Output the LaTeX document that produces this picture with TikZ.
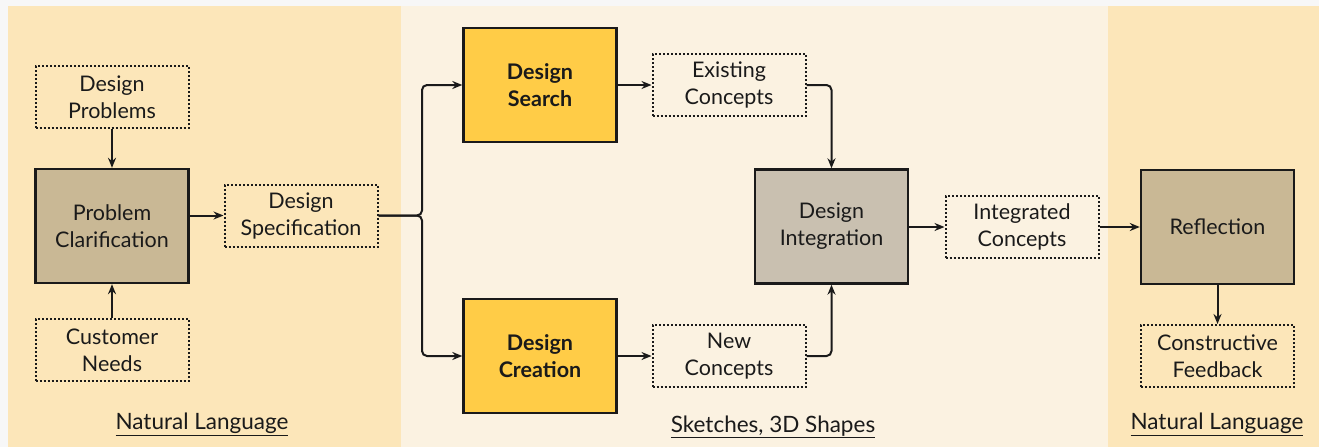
\documentclass[tikz,border=0pt]{standalone}
\usepackage{fontspec}
\setmainfont{Lato}
\usetikzlibrary{arrows.meta}
\definecolor{bgout}{HTML}{F7F7F7}
\definecolor{panelA}{HTML}{FCE6B9}
\definecolor{panelB}{HTML}{FBF2E1}
\definecolor{tan}{HTML}{C9B895}
\definecolor{greyb}{HTML}{C9C0B0}
\definecolor{yell}{HTML}{FFCC47}
\definecolor{ink}{HTML}{1A1A1A}
\tikzset{
  every node/.style={font=\fontsize{21.5}{27}\selectfont, text=ink, align=center, inner sep=0pt},
  bigbox/.style={draw=ink, line width=2.4pt, minimum width=153pt, minimum height=114pt},
  dotbox/.style={draw=ink, line width=2pt, dash pattern=on 2pt off 2pt, minimum width=153pt, minimum height=62pt},
  arr/.style={draw=ink, line width=2pt, -{Stealth[length=10pt,width=8pt]}},
  lbl/.style={font=\fontsize{22.5}{26}\selectfont}
}
\begin{document}
\begin{tikzpicture}[x=1pt,y=-1pt]
\useasboundingbox (0,0) rectangle (1319,447);
\fill[bgout] (0,0) rectangle (1319,447);
\fill[panelA] (8,6) rectangle (401,447);
\fill[panelB] (401,6) rectangle (1108,447);
\fill[panelA] (1108,6) rectangle (1319,447);

\node[dotbox] (dp) at (112,97) {Design\\Problems};
\node[bigbox, fill=tan] (pc) at (112,226) {Problem\\Clarification};
\node[dotbox] (cn) at (112,350) {Customer\\Needs};
\node[dotbox] (spec) at (301,215.5) {Design\\Specification};

\node[bigbox, fill=yell, font=\fontsize{21.5}{27}\selectfont\bfseries] (search) at (540,85) {Design\\Search};
\node[bigbox, fill=yell, font=\fontsize{21.5}{27}\selectfont\bfseries] (create) at (540,356) {Design\\Creation};
\node[dotbox] (exist) at (729,85) {Existing\\Concepts};
\node[dotbox] (new) at (729,356) {New\\Concepts};
\node[bigbox, fill=greyb] (integ) at (831.5,226.5) {Design\\Integration};
\node[dotbox] (intc) at (1022,227) {Integrated\\Concepts};
\node[bigbox, fill=tan] (refl) at (1217.5,227) {Reflection};
\node[dotbox] (fb) at (1217.5,356) {Constructive\\Feedback};

\node[lbl] (nl1) at (202,424) {\underline{Natural Language}};
\node[lbl] (sk) at (773,427) {\underline{Sketches, 3D Shapes}};
\node[lbl] (nl2) at (1217,424) {\underline{Natural Language}};

\coordinate (jx) at (422,215.5);

\draw[arr] (dp) -- (pc);
\draw[arr] (cn) -- (pc);
\draw[arr] (pc.east |- spec.west) -- (spec.west);
\draw[arr, rounded corners=5pt] (spec.east) -- (jx) |- (search.west);
\draw[arr, rounded corners=5pt] (spec.east) -- (jx) |- (create.west);
\draw[arr] (search) -- (exist);
\draw[arr] (create) -- (new);
\draw[arr, rounded corners=5pt] (exist.east) -| (integ.north);
\draw[arr, rounded corners=5pt] (new.east) -| (integ.south);
\draw[arr] (integ.east |- intc.west) -- (intc.west);
\draw[arr] (intc.east) -- (refl.west |- intc.east);
\draw[arr] (refl) -- (fb);
\end{tikzpicture}
\end{document}
